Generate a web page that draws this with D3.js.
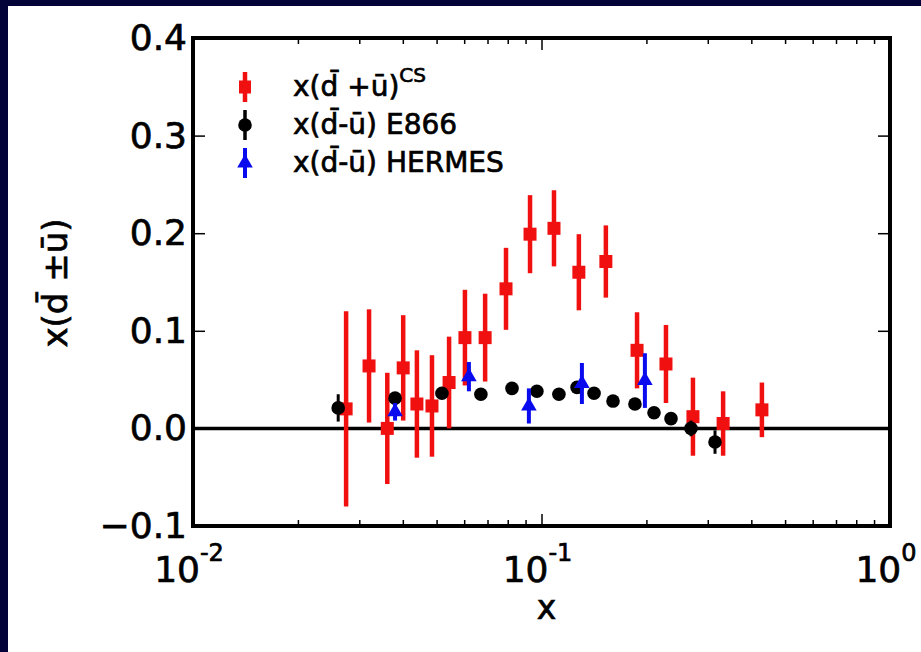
<!DOCTYPE html>
<html>
<head>
<meta charset="utf-8">
<script src="https://cdn.jsdelivr.net/npm/d3@7"></script>
<style>
  html, body { margin: 0; padding: 0; background: #03033a; }
  svg { display: block; }
  text { font-family: "DejaVu Sans", sans-serif; fill: #000; stroke: #000; stroke-width: 0.7px; }
</style>
</head>
<body>
<div id="chart"></div>
<script>
// x(dbar + ubar)^CS points
var csX   = [0.0275, 0.032, 0.0361, 0.0401, 0.0439, 0.0485, 0.0543, 0.0603, 0.0689, 0.0791,
             0.0927, 0.1086, 0.128, 0.153, 0.188, 0.2276, 0.272, 0.332, 0.429];
var csY   = [0.020, 0.064, 0.000, 0.062, 0.025, 0.023, 0.047, 0.093, 0.093, 0.143,
             0.199, 0.205, 0.160, 0.171, 0.080, 0.066, 0.012, 0.005, 0.019];
var csErr = [0.100, 0.058, 0.057, 0.054, 0.055, 0.052, 0.047, 0.049, 0.045, 0.042,
             0.040, 0.039, 0.039, 0.037, 0.039, 0.040, 0.040, 0.033, 0.028];

// x(dbar - ubar) E866 points
var e866X   = [0.0261, 0.038, 0.0518, 0.067, 0.0823, 0.097, 0.1122, 0.1265, 0.1415, 0.1604,
               0.1854, 0.2103, 0.2353, 0.2685, 0.3147];
var e866Y   = [0.021, 0.031, 0.036, 0.035, 0.041, 0.038, 0.035, 0.042, 0.036, 0.028,
               0.025, 0.016, 0.010, 0.000, -0.014];
var e866Err = [0.014, 0.006, 0.004, 0.003, 0.003, 0.003, 0.003, 0.003, 0.003, 0.004,
               0.004, 0.005, 0.006, 0.008, 0.012];

// x(dbar - ubar) HERMES points
var hermesX   = [0.038, 0.0619, 0.092, 0.1306, 0.198];
var hermesY   = [0.017, 0.053, 0.023, 0.046, 0.049];
var hermesErr = [0.009, 0.015, 0.018, 0.021, 0.028];

// axis ticks
var xMajorTicks = [0.01, 0.1, 1];
var xTickExp    = ['-2', '-1', '0'];
var yTicks      = [-0.1, 0.0, 0.1, 0.2, 0.3, 0.4];

var W = 921, H = 652;
var margin = { left: 193, right: 31, top: 38, bottom: 126 };

var red = '#f01010', blue = '#0a0aee';

var svg = d3.select('#chart').append('svg')
            .attr('width', W)
            .attr('height', H);

// navy slide frame with a white page on it
svg.append('rect').attr('width', W).attr('height', H).attr('fill', '#03033a');
svg.append('rect').attr('x', 8).attr('y', 6).attr('width', W - 8).attr('height', H - 6).attr('fill', '#fff');

var x = d3.scaleLog().domain([0.01, 1]).range([margin.left, W - margin.right]);
var y = d3.scaleLinear().domain([-0.1, 0.4]).range([H - margin.bottom, margin.top]);

var x0 = x.range()[0], x1 = x.range()[1];
var y0 = y.range()[0], y1 = y.range()[1];

// minor ticks: 2..9 of each decade
var xMinorTicks = x.ticks().filter(function(d) {
  return xMajorTicks.indexOf(d) < 0 && d > 0.01 && d < 1;
});

// zero line first, so marks sit on top of it
svg.append('line')
   .attr('x1', x0).attr('x2', x1)
   .attr('y1', y(0)).attr('y2', y(0))
   .attr('stroke', '#000').attr('stroke-width', 3.5);

function errBars(xs, ys, es, color, width) {
  svg.append('g').selectAll('line').data(xs).enter().append('line')
     .attr('x1', function(d) { return x(d); })
     .attr('x2', function(d) { return x(d); })
     .attr('y1', function(d, i) { return y(ys[i] + es[i]); })
     .attr('y2', function(d, i) { return y(ys[i] - es[i]); })
     .attr('stroke', color)
     .attr('stroke-width', width);
}

// CS: red squares
errBars(csX, csY, csErr, red, 4.5);
svg.append('g').selectAll('rect').data(csX).enter().append('rect')
   .attr('x', function(d) { return x(d) - 6.5; })
   .attr('y', function(d, i) { return y(csY[i]) - 6.5; })
   .attr('width', 13).attr('height', 13)
   .attr('fill', red);

// E866: black circles
errBars(e866X, e866Y, e866Err, '#000', 3);
svg.append('g').selectAll('circle').data(e866X).enter().append('circle')
   .attr('cx', function(d) { return x(d); })
   .attr('cy', function(d, i) { return y(e866Y[i]); })
   .attr('r', 6.8)
   .attr('fill', '#000');

// HERMES: blue triangles
var tri = d3.symbol().type(d3.symbolTriangle).size(105);
errBars(hermesX, hermesY, hermesErr, blue, 4);
svg.append('g').selectAll('path').data(hermesX).enter().append('path')
   .attr('d', tri)
   .attr('transform', function(d, i) { return 'translate(' + x(d) + ',' + y(hermesY[i]) + ')'; })
   .attr('fill', blue);

// axes with inward ticks on all four sides
function styleAxis(g) {
  g.select('.domain').remove();
  g.selectAll('.tick line').attr('stroke', '#000').attr('stroke-width', 1.5);
}

svg.append('g').attr('transform', 'translate(0,' + y0 + ')')
   .call(d3.axisBottom(x).tickValues(xMajorTicks).tickSize(-12).tickFormat(''))
   .call(styleAxis);
svg.append('g').attr('transform', 'translate(0,' + y0 + ')')
   .call(d3.axisBottom(x).tickValues(xMinorTicks).tickSize(-6).tickFormat(''))
   .call(styleAxis);
svg.append('g').attr('transform', 'translate(0,' + y1 + ')')
   .call(d3.axisTop(x).tickValues(xMajorTicks).tickSize(-12).tickFormat(''))
   .call(styleAxis);
svg.append('g').attr('transform', 'translate(0,' + y1 + ')')
   .call(d3.axisTop(x).tickValues(xMinorTicks).tickSize(-6).tickFormat(''))
   .call(styleAxis);

var yAxis = svg.append('g').attr('transform', 'translate(' + x0 + ',0)')
   .call(d3.axisLeft(y).tickValues(yTicks).tickSize(-12).tickPadding(6).tickFormat(d3.format('.1f')))
   .call(styleAxis);
yAxis.selectAll('.tick text').attr('font-size', 36).attr('font-family', '"DejaVu Sans", sans-serif');

svg.append('g').attr('transform', 'translate(' + x1 + ',0)')
   .call(d3.axisRight(y).tickValues(yTicks).tickSize(-12).tickFormat(''))
   .call(styleAxis);

// x tick labels as 10^n
var xLab = svg.append('g').selectAll('text').data(xMajorTicks).enter().append('text')
   .attr('x', function(d) { return x(d) - 4; })
   .attr('y', y0 + 56)
   .attr('text-anchor', 'middle')
   .attr('font-size', 36);
xLab.append('tspan').text('10');
xLab.append('tspan').attr('font-size', 24).attr('dy', -21).text(function(d, i) { return xTickExp[i]; });

// frame
svg.append('rect')
   .attr('x', x0).attr('y', y1)
   .attr('width', x1 - x0).attr('height', y0 - y1)
   .attr('fill', 'none').attr('stroke', '#000').attr('stroke-width', 4);

// axis titles
svg.append('text')
   .attr('x', (x0 + x1) / 2 + 5).attr('y', 619)
   .attr('text-anchor', 'middle')
   .attr('font-size', 33)
   .text('x');

svg.append('text')
   .attr('transform', 'translate(67,283) rotate(-90)')
   .attr('text-anchor', 'middle')
   .attr('font-size', 34)
   .text('x(d\u0304 \u00b1\u016b)');

// legend
var legendY = [87, 125, 163];
var lx = 245, tx = 293;

svg.append('line').attr('x1', lx).attr('x2', lx).attr('y1', legendY[0] - 15).attr('y2', legendY[0] + 15)
   .attr('stroke', red).attr('stroke-width', 4.5);
svg.append('rect').attr('x', lx - 6).attr('y', legendY[0] - 6.5).attr('width', 12).attr('height', 13)
   .attr('fill', red);

svg.append('line').attr('x1', lx).attr('x2', lx).attr('y1', legendY[1] - 15).attr('y2', legendY[1] + 15)
   .attr('stroke', '#000').attr('stroke-width', 3.5);
svg.append('circle').attr('cx', lx).attr('cy', legendY[1]).attr('r', 6.8).attr('fill', '#000');

svg.append('line').attr('x1', lx).attr('x2', lx).attr('y1', legendY[2] - 15).attr('y2', legendY[2] + 15)
   .attr('stroke', blue).attr('stroke-width', 4);
svg.append('path').attr('d', tri).attr('transform', 'translate(' + lx + ',' + legendY[2] + ')')
   .attr('fill', blue);

var t0 = svg.append('text').attr('x', tx).attr('y', legendY[0] + 9).attr('font-size', 28);
t0.append('tspan').text('x(d\u0304 +\u016b)');
t0.append('tspan').attr('font-size', 20).attr('dy', -14).text('CS');

svg.append('text').attr('x', tx).attr('y', legendY[1] + 9).attr('font-size', 28)
   .text('x(d\u0304-\u016b) E866');
svg.append('text').attr('x', tx).attr('y', legendY[2] + 9).attr('font-size', 28)
   .text('x(d\u0304-\u016b) HERMES');
</script>
</body>
</html>
